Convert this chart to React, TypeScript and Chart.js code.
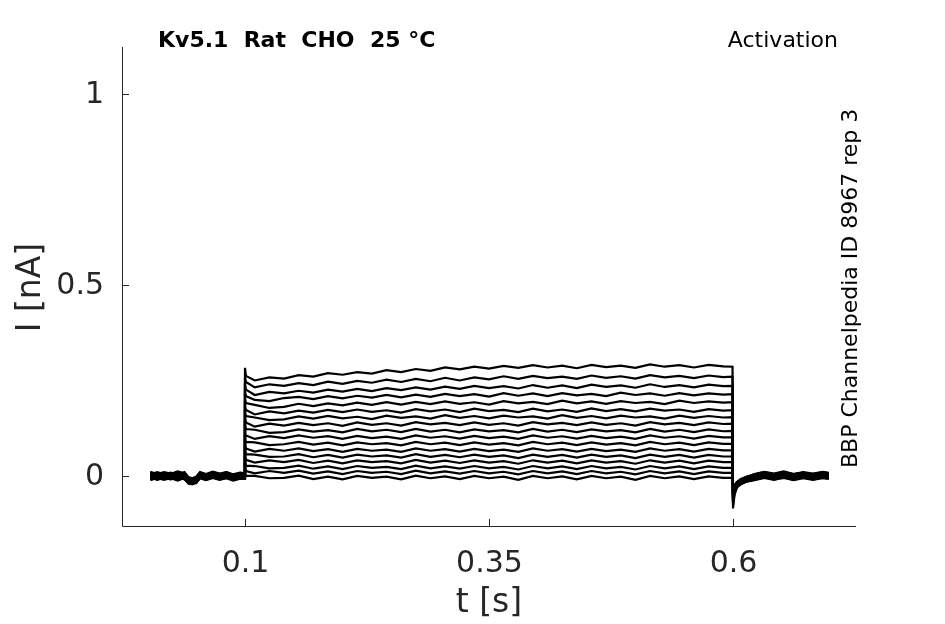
import React, { useEffect, useRef } from "react";
import { Chart, registerables } from "chart.js";

Chart.register(...registerables);

// ---- data ----
const preTimes = [0.003, 0.01, 0.017, 0.024, 0.031, 0.038, 0.042, 0.046, 0.05, 0.054, 0.06, 0.067, 0.074, 0.081, 0.088, 0.095, 0.0995];
const stepTime = 0.1;
const plateauTimes = [0.101, 0.11, 0.125, 0.14, 0.155, 0.17, 0.185, 0.2, 0.215, 0.23, 0.245, 0.26, 0.275, 0.29, 0.305, 0.32, 0.335, 0.35, 0.365, 0.38, 0.395, 0.41, 0.425, 0.44, 0.455, 0.47, 0.485, 0.5, 0.515, 0.53, 0.545, 0.56, 0.575, 0.59, 0.5995];
const postTimes = [0.6, 0.6015, 0.604, 0.608, 0.614, 0.622, 0.632, 0.642, 0.652, 0.662, 0.672, 0.682, 0.692, 0.698];

const xTicks = [0.1, 0.35, 0.6];
const xTickLabels = ["0.1", "0.35", "0.6"];
const yTicks = [0, 0.5, 1];
const yTickLabels = ["0", "0.5", "1"];

const preStep = [
  [0.009, 0.003, 0.008, 0.004, 0.01, 0.005, -0.006, -0.009, -0.004, 0.008, 0.003, 0.009, 0.004, 0.01, 0.003, 0.007, 0.005],
  [-0.004, -0.01, -0.005, -0.009, -0.003, -0.008, -0.019, -0.021, -0.017, -0.005, -0.01, -0.004, -0.009, -0.005, -0.011, -0.006, -0.007],
  [0.005, -0.001, 0.004, 0.0, 0.006, -0.002, -0.011, -0.013, -0.008, 0.004, -0.001, 0.005, 0.0, 0.004, -0.002, 0.005, 0.001],
  [-0.006, 0.0, -0.005, -0.001, -0.006, 0.001, -0.016, -0.013, -0.017, -0.001, -0.006, 0.0, -0.005, 0.001, -0.004, -0.001, -0.003],
  [0.011, 0.005, 0.01, 0.006, 0.012, 0.007, -0.003, -0.006, -0.002, 0.01, 0.005, 0.011, 0.006, 0.01, 0.004, 0.009, 0.007],
  [-0.002, -0.008, -0.003, -0.007, -0.001, -0.006, -0.018, -0.015, -0.019, -0.003, -0.008, -0.002, -0.007, -0.003, -0.009, -0.004, -0.005],
  [0.001, 0.007, 0.002, 0.006, 0.0, 0.007, -0.007, -0.01, -0.006, 0.006, 0.001, 0.007, 0.002, 0.006, 0.001, 0.005, 0.003],
  [-0.011, -0.005, -0.01, -0.006, -0.012, -0.005, -0.02, -0.022, -0.018, -0.006, -0.011, -0.005, -0.01, -0.006, -0.012, -0.007, -0.008],
  [0.003, -0.003, 0.002, -0.002, 0.004, -0.003, -0.012, -0.015, -0.01, 0.002, -0.003, 0.003, -0.002, 0.004, -0.004, 0.001, 0.0],
  [0.004, 0.01, 0.005, 0.009, 0.003, 0.01, -0.004, -0.007, -0.003, 0.009, 0.004, 0.01, 0.005, 0.009, 0.003, 0.008, 0.006],
  [0.001, -0.005, 0.0, -0.004, 0.002, -0.005, -0.013, -0.016, -0.012, 0.0, -0.005, 0.001, -0.004, 0.002, -0.006, -0.001, -0.002],
  [0.0, 0.006, 0.001, 0.005, -0.001, 0.006, -0.008, -0.011, -0.009, 0.005, 0.0, 0.006, 0.001, 0.005, -0.001, 0.004, 0.002],
  [-0.003, -0.009, -0.004, -0.008, -0.002, -0.009, -0.017, -0.02, -0.016, -0.004, -0.009, -0.003, -0.008, -0.002, -0.01, -0.005, -0.006],
  [0.008, 0.002, 0.007, 0.003, 0.009, 0.002, -0.006, -0.008, -0.005, 0.007, 0.002, 0.008, 0.003, 0.009, 0.001, 0.006, 0.004],
  [-0.007, -0.001, -0.006, -0.002, -0.008, -0.001, -0.015, -0.018, -0.014, -0.002, -0.007, -0.001, -0.006, -0.002, -0.008, -0.003, -0.004],
  [0.004, -0.002, 0.003, -0.001, 0.005, -0.002, -0.01, -0.013, -0.011, 0.003, -0.002, 0.004, -0.001, 0.005, -0.003, 0.002, 0.001],
  [-0.004, 0.002, -0.003, 0.001, -0.005, 0.002, -0.012, -0.014, -0.01, 0.001, -0.004, 0.002, -0.003, 0.001, -0.005, 0.0, -0.001],
];

const stepPeaks = [0.283, 0.26, 0.24, 0.22, 0.2, 0.18, 0.165, 0.15, 0.13, 0.11, 0.095, 0.08, 0.065, 0.05, 0.035, 0.02, 0.005];

const plateau = [
  [0.262, 0.25, 0.258, 0.255, 0.264, 0.26, 0.269, 0.265, 0.272, 0.268, 0.277, 0.272, 0.28, 0.275, 0.284, 0.279, 0.286, 0.281, 0.288, 0.283, 0.29, 0.284, 0.289, 0.282, 0.291, 0.285, 0.289, 0.283, 0.292, 0.286, 0.29, 0.284, 0.291, 0.287, 0.286],
  [0.246, 0.232, 0.24, 0.236, 0.243, 0.238, 0.247, 0.241, 0.249, 0.244, 0.252, 0.246, 0.254, 0.248, 0.257, 0.25, 0.258, 0.253, 0.261, 0.254, 0.262, 0.256, 0.26, 0.254, 0.263, 0.257, 0.261, 0.255, 0.264, 0.258, 0.262, 0.256, 0.263, 0.259, 0.26],
  [0.226, 0.212, 0.22, 0.216, 0.223, 0.218, 0.226, 0.221, 0.228, 0.222, 0.23, 0.225, 0.232, 0.226, 0.234, 0.228, 0.236, 0.23, 0.235, 0.229, 0.238, 0.231, 0.237, 0.23, 0.239, 0.233, 0.237, 0.231, 0.24, 0.233, 0.238, 0.232, 0.239, 0.235, 0.236],
  [0.209, 0.199, 0.196, 0.204, 0.207, 0.201, 0.209, 0.203, 0.21, 0.205, 0.212, 0.206, 0.213, 0.207, 0.215, 0.209, 0.214, 0.208, 0.217, 0.21, 0.216, 0.209, 0.217, 0.211, 0.215, 0.209, 0.218, 0.212, 0.216, 0.21, 0.217, 0.211, 0.216, 0.213, 0.214],
  [0.191, 0.186, 0.178, 0.181, 0.189, 0.183, 0.19, 0.185, 0.192, 0.186, 0.193, 0.187, 0.194, 0.188, 0.195, 0.189, 0.193, 0.187, 0.196, 0.19, 0.194, 0.188, 0.197, 0.19, 0.195, 0.189, 0.196, 0.191, 0.194, 0.188, 0.197, 0.191, 0.195, 0.192, 0.193],
  [0.173, 0.161, 0.169, 0.164, 0.171, 0.166, 0.173, 0.167, 0.174, 0.168, 0.172, 0.166, 0.175, 0.169, 0.174, 0.167, 0.176, 0.17, 0.173, 0.167, 0.176, 0.169, 0.174, 0.168, 0.177, 0.17, 0.175, 0.169, 0.176, 0.171, 0.174, 0.168, 0.175, 0.171, 0.172],
  [0.157, 0.153, 0.146, 0.148, 0.156, 0.15, 0.157, 0.151, 0.155, 0.149, 0.158, 0.152, 0.156, 0.15, 0.159, 0.152, 0.157, 0.151, 0.158, 0.153, 0.156, 0.15, 0.159, 0.152, 0.157, 0.151, 0.158, 0.153, 0.156, 0.15, 0.158, 0.152, 0.157, 0.153, 0.154],
  [0.14, 0.129, 0.137, 0.132, 0.139, 0.133, 0.138, 0.131, 0.14, 0.134, 0.138, 0.132, 0.141, 0.135, 0.139, 0.133, 0.14, 0.134, 0.138, 0.132, 0.141, 0.135, 0.139, 0.133, 0.14, 0.134, 0.138, 0.132, 0.141, 0.135, 0.139, 0.133, 0.14, 0.136, 0.137],
  [0.123, 0.121, 0.113, 0.115, 0.122, 0.116, 0.12, 0.114, 0.123, 0.117, 0.121, 0.115, 0.123, 0.116, 0.121, 0.114, 0.122, 0.117, 0.12, 0.114, 0.123, 0.116, 0.121, 0.115, 0.122, 0.117, 0.12, 0.114, 0.123, 0.116, 0.121, 0.115, 0.122, 0.117, 0.118],
  [0.106, 0.097, 0.104, 0.099, 0.106, 0.1, 0.104, 0.097, 0.105, 0.099, 0.103, 0.097, 0.106, 0.1, 0.104, 0.098, 0.105, 0.099, 0.103, 0.097, 0.106, 0.1, 0.104, 0.098, 0.105, 0.099, 0.103, 0.097, 0.106, 0.1, 0.104, 0.098, 0.105, 0.101, 0.101],
  [0.089, 0.088, 0.081, 0.083, 0.089, 0.082, 0.087, 0.08, 0.088, 0.083, 0.086, 0.08, 0.089, 0.083, 0.087, 0.081, 0.088, 0.082, 0.086, 0.08, 0.089, 0.083, 0.087, 0.081, 0.088, 0.082, 0.086, 0.08, 0.089, 0.083, 0.087, 0.081, 0.088, 0.084, 0.084],
  [0.072, 0.064, 0.071, 0.066, 0.072, 0.065, 0.07, 0.063, 0.071, 0.066, 0.069, 0.063, 0.072, 0.066, 0.07, 0.064, 0.071, 0.065, 0.069, 0.063, 0.072, 0.066, 0.07, 0.064, 0.071, 0.065, 0.069, 0.063, 0.072, 0.066, 0.07, 0.064, 0.071, 0.067, 0.067],
  [0.057, 0.056, 0.05, 0.051, 0.057, 0.049, 0.055, 0.048, 0.056, 0.051, 0.054, 0.048, 0.057, 0.05, 0.055, 0.049, 0.056, 0.05, 0.054, 0.047, 0.056, 0.05, 0.055, 0.048, 0.056, 0.05, 0.054, 0.047, 0.056, 0.05, 0.055, 0.048, 0.055, 0.051, 0.051],
  [0.042, 0.035, 0.041, 0.036, 0.042, 0.034, 0.04, 0.033, 0.041, 0.036, 0.039, 0.033, 0.042, 0.035, 0.04, 0.034, 0.041, 0.035, 0.039, 0.032, 0.041, 0.035, 0.04, 0.033, 0.041, 0.035, 0.039, 0.032, 0.041, 0.035, 0.04, 0.033, 0.04, 0.036, 0.036],
  [0.027, 0.026, 0.02, 0.021, 0.027, 0.019, 0.025, 0.018, 0.026, 0.021, 0.024, 0.018, 0.027, 0.02, 0.025, 0.019, 0.026, 0.02, 0.024, 0.017, 0.026, 0.02, 0.025, 0.018, 0.026, 0.02, 0.024, 0.017, 0.026, 0.02, 0.025, 0.018, 0.025, 0.021, 0.021],
  [0.013, 0.007, 0.013, 0.008, 0.014, 0.006, 0.012, 0.005, 0.013, 0.008, 0.011, 0.005, 0.014, 0.007, 0.012, 0.006, 0.013, 0.007, 0.011, 0.004, 0.013, 0.007, 0.012, 0.005, 0.013, 0.007, 0.011, 0.004, 0.013, 0.007, 0.012, 0.005, 0.012, 0.008, 0.008],
  [0.0, 0.0, -0.006, -0.005, 0.001, -0.008, -0.002, -0.009, 0.0, -0.005, -0.002, -0.009, 0.001, -0.006, -0.001, -0.008, 0.0, -0.006, -0.002, -0.01, 0.0, -0.006, -0.001, -0.009, 0.0, -0.006, -0.002, -0.01, 0.0, -0.006, -0.001, -0.008, -0.001, -0.005, -0.005],
];

const postStep = [
  [-0.085, -0.05, -0.03, -0.016, -0.006, 0.003, 0.009, 0.004, 0.01, 0.005, 0.009, 0.003, 0.008, 0.006],
  [-0.075, -0.045, -0.03, -0.022, -0.014, -0.01, -0.004, -0.009, -0.005, -0.01, -0.004, -0.009, -0.005, -0.007],
  [-0.07, -0.042, -0.026, -0.015, -0.007, -0.001, 0.005, 0.0, 0.006, -0.001, 0.004, 0.0, 0.005, 0.002],
  [-0.068, -0.04, -0.027, -0.019, -0.01, -0.006, 0.0, -0.005, 0.001, -0.006, -0.001, -0.005, 0.0, -0.003],
  [-0.065, -0.038, -0.022, -0.012, -0.003, 0.005, 0.011, 0.006, 0.012, 0.005, 0.01, 0.006, 0.011, 0.008],
  [-0.062, -0.036, -0.027, -0.02, -0.012, -0.008, -0.002, -0.007, -0.001, -0.008, -0.003, -0.007, -0.002, -0.005],
  [-0.06, -0.034, -0.022, -0.012, -0.004, 0.001, 0.007, 0.002, 0.008, 0.001, 0.006, 0.002, 0.007, 0.004],
  [-0.058, -0.033, -0.028, -0.021, -0.015, -0.011, -0.005, -0.01, -0.004, -0.011, -0.006, -0.01, -0.005, -0.008],
  [-0.055, -0.032, -0.023, -0.015, -0.008, -0.003, 0.003, -0.002, 0.004, -0.003, 0.002, -0.002, 0.003, 0.0],
  [-0.052, -0.03, -0.018, -0.009, -0.002, 0.004, 0.01, 0.005, 0.01, 0.004, 0.009, 0.005, 0.01, 0.007],
  [-0.05, -0.029, -0.022, -0.015, -0.008, -0.005, 0.001, -0.004, 0.002, -0.005, 0.0, -0.004, 0.001, -0.002],
  [-0.048, -0.028, -0.018, -0.01, -0.003, 0.0, 0.006, 0.001, 0.006, 0.0, 0.005, 0.001, 0.006, 0.003],
  [-0.046, -0.027, -0.023, -0.017, -0.011, -0.009, -0.003, -0.008, -0.002, -0.009, -0.004, -0.008, -0.003, -0.006],
  [-0.044, -0.026, -0.016, -0.008, -0.002, 0.002, 0.008, 0.003, 0.008, 0.002, 0.007, 0.003, 0.008, 0.005],
  [-0.042, -0.025, -0.02, -0.014, -0.008, -0.007, -0.001, -0.006, 0.0, -0.007, -0.002, -0.006, -0.001, -0.004],
  [-0.04, -0.024, -0.016, -0.01, -0.005, -0.002, 0.004, -0.001, 0.004, -0.002, 0.003, -0.001, 0.004, 0.001],
  [-0.038, -0.023, -0.017, -0.011, -0.006, -0.004, 0.002, -0.003, 0.003, -0.004, 0.001, -0.003, 0.002, -0.001],
];

const titleText = "Kv5.1  Rat  CHO  25 °C";
const protocolText = "Activation";
const sideText = "BBP Channelpedia ID 8967 rep 3";
const xTitle = "t [s]";
const yTitle = "I [nA]";

const FONT = "'DejaVu Sans', sans-serif";
const AXIS_COLOR = "#262626";

const axesPlugin = {
  id: "matlabAxes",
  afterDraw(chart: any) {
    const { ctx, chartArea } = chart;
    const { left, right, top, bottom } = chartArea;
    const xs = chart.scales.x;
    const ys = chart.scales.y;
    ctx.save();
    ctx.strokeStyle = AXIS_COLOR;
    ctx.lineWidth = 1;
    ctx.beginPath();
    ctx.moveTo(left + 0.5, top);
    ctx.lineTo(left + 0.5, bottom + 0.5);
    ctx.lineTo(right, bottom + 0.5);
    ctx.stroke();

    const tickLen = 7;
    ctx.fillStyle = AXIS_COLOR;
    ctx.font = `30px ${FONT}`;
    ctx.textAlign = "right";
    ctx.textBaseline = "middle";
    yTicks.forEach((v, i) => {
      const py = Math.round(ys.getPixelForValue(v)) + 0.5;
      ctx.beginPath();
      ctx.moveTo(left, py);
      ctx.lineTo(left + tickLen, py);
      ctx.stroke();
      ctx.fillText(yTickLabels[i], left - 18, py + 1);
    });
    ctx.textAlign = "center";
    ctx.textBaseline = "alphabetic";
    xTicks.forEach((v, i) => {
      const px = Math.round(xs.getPixelForValue(v)) + 0.5;
      ctx.beginPath();
      ctx.moveTo(px, bottom);
      ctx.lineTo(px, bottom - tickLen);
      ctx.stroke();
      ctx.fillText(xTickLabels[i], px, 572);
    });

    ctx.font = `33px ${FONT}`;
    ctx.textAlign = "center";
    ctx.fillText(xTitle, (left + right) / 2, 612);
    ctx.save();
    ctx.translate(40, (top + bottom) / 2 + 1);
    ctx.rotate(-Math.PI / 2);
    ctx.textBaseline = "alphabetic";
    ctx.fillText(yTitle, 0, 0);
    ctx.restore();

    ctx.fillStyle = "#000";
    ctx.textAlign = "left";
    ctx.textBaseline = "alphabetic";
    ctx.font = `bold 22px ${FONT}`;
    ctx.fillText(titleText, 158, 47);
    ctx.font = `22px ${FONT}`;
    ctx.textAlign = "right";
    ctx.fillText(protocolText, 838, 47);
    ctx.save();
    ctx.translate(857, 468);
    ctx.rotate(-Math.PI / 2);
    ctx.textAlign = "left";
    ctx.fillText(sideText, 0, 0);
    ctx.restore();

    ctx.restore();
  },
};

function buildTrace(k: number) {
  const pts: { x: number; y: number }[] = [];
  preTimes.forEach((t, i) => pts.push({ x: t, y: preStep[k][i] }));
  pts.push({ x: stepTime, y: stepPeaks[k] });
  plateauTimes.forEach((t, i) => pts.push({ x: t, y: plateau[k][i] }));
  postTimes.forEach((t, i) => pts.push({ x: t, y: postStep[k][i] }));
  return pts;
}

export default function App() {
  const canvasRef = useRef<HTMLCanvasElement | null>(null);

  useEffect(() => {
    document.body.style.margin = "0";
    const canvas = canvasRef.current;
    if (!canvas) return;
    const datasets = plateau.map((_, k) => ({
      label: `step ${k + 1}`,
      data: buildTrace(k),
      borderColor: "#000000",
      backgroundColor: "#000000",
      borderWidth: 2.2,
      pointRadius: 0,
      tension: 0,
      fill: false,
    }));
    const chart = new Chart(canvas, {
      type: "line",
      data: { datasets },
      options: {
        animation: false,
        responsive: false,
        devicePixelRatio: 1,
        parsing: false as any,
        layout: { padding: { left: 122, right: 89, top: 47, bottom: 98 } },
        plugins: { legend: { display: false }, tooltip: { enabled: false } },
        events: [],
        scales: {
          x: { type: "linear", min: -0.026, max: 0.726, display: false },
          y: { type: "linear", min: -0.131, max: 1.123, display: false },
        },
      },
      plugins: [axesPlugin],
    });
    return () => chart.destroy();
  }, []);

  return (
    <div style={{ width: 945, height: 624, background: "#fff" }}>
      <canvas ref={canvasRef} width={945} height={624} style={{ display: "block" }} />
    </div>
  );
}
